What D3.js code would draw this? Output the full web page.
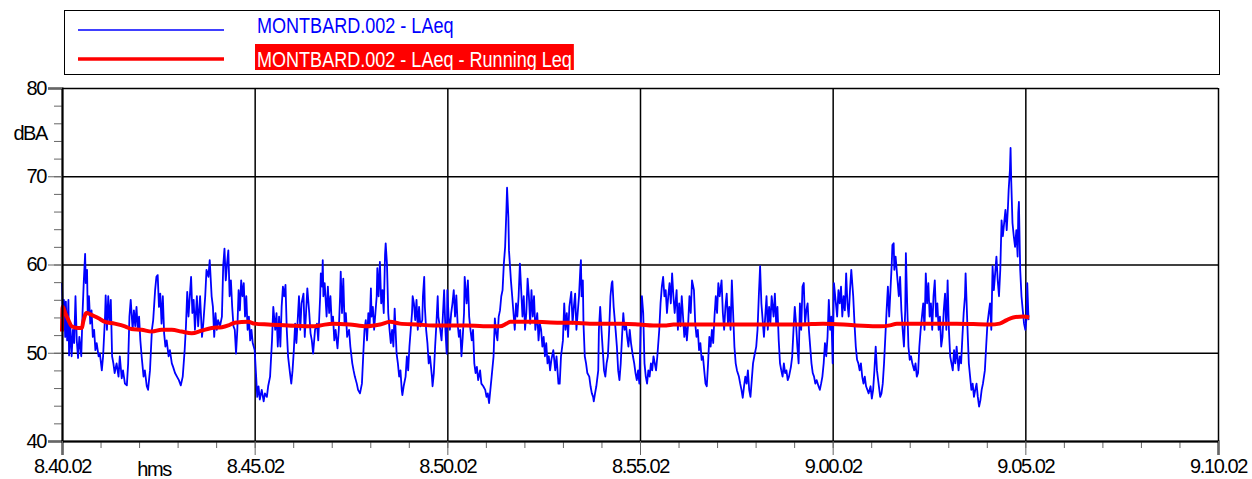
<!DOCTYPE html>
<html>
<head>
<meta charset="utf-8">
<script src="https://cdn.jsdelivr.net/npm/d3@7"></script>
<style>
body { margin: 0; background: #fff; }
text { font-family: "Liberation Sans", Arial, sans-serif; }
</style>
</head>
<body>
<div id="chart"></div>
<script>
// seconds after the start time 8.40.02
const startClock = [8, 40, 2];
const xTickSeconds = [0, 300, 600, 900, 1200, 1500, 1800];
const xMinorSeconds = d3.range(0, 1801, 60);
const yTickValues = [40, 50, 60, 70, 80];
const yMinorValues = d3.range(40, 81, 2);
const legendLabels = ["MONTBARD.002 - LAeq", "MONTBARD.002 - LAeq - Running Leq"];

// LAeq, [seconds, dBA]
const laeq = [
[0,57.9],[2,52.6],[3,56.0],[5,51.8],[6,55.8],[8,51.4],[10,56.0],[11,49.7],[13,53.0],[15,49.6],[17,52.6],[19,51.1],[21,56.4],[23,51.4],[25,49.4],[27,51.8],[30,49.6],[32,54.5],[34,58.2],[36,61.2],[37,57.9],[39,59.4],[40,54.5],[42,56.4],[44,53.3],[46,54.8],[48,51.8],[50,52.6],[52,50.3],[54,51.1],[57,49.6],[59,49.9],[62,48.0],[64,49.6],[67,54.1],[68,56.5],[70,52.6],[72,56.4],[74,53.3],[76,56.0],[78,49.6],[80,48.8],[82,47.7],[85,48.8],[88,47.3],[90,49.6],[93,47.1],[95,48.0],[98,46.5],[101,46.3],[103,48.8],[105,54.1],[107,56.0],[110,52.6],[112,54.8],[114,53.0],[116,55.2],[118,52.6],[120,54.1],[122,51.4],[124,49.6],[127,47.3],[129,48.0],[132,46.2],[134,45.8],[137,48.0],[140,52.6],[142,53.7],[145,57.1],[147,58.6],[149,58.8],[151,55.2],[153,56.7],[155,53.3],[157,56.4],[159,52.2],[161,50.7],[163,51.4],[166,49.6],[168,50.3],[171,48.8],[173,48.4],[176,47.7],[179,47.3],[182,46.9],[185,46.3],[188,47.3],[191,50.3],[193,53.0],[195,56.9],[197,54.1],[199,56.4],[201,58.6],[203,54.5],[205,56.0],[207,52.6],[210,56.4],[212,53.0],[215,56.4],[218,51.8],[220,53.3],[223,56.4],[225,59.4],[228,58.6],[230,60.5],[233,56.4],[235,55.2],[237,51.8],[239,54.5],[241,52.6],[243,53.7],[246,53.0],[249,54.1],[251,59.8],[253,61.8],[255,58.2],[257,60.1],[259,61.6],[261,56.4],[263,58.2],[265,55.2],[267,53.0],[269,52.6],[271,49.9],[273,52.6],[275,57.1],[277,54.8],[279,58.2],[281,56.4],[283,57.9],[285,54.1],[287,56.4],[289,52.6],[291,54.1],[293,51.4],[295,52.6],[297,51.1],[300,50.3],[302,47.7],[304,45.0],[306,46.2],[308,44.7],[311,45.8],[314,44.5],[316,45.4],[319,45.0],[321,46.2],[324,47.3],[327,51.4],[329,55.2],[332,52.6],[334,54.5],[336,50.7],[338,54.1],[340,50.7],[342,55.2],[344,57.5],[346,56.4],[348,57.7],[350,52.6],[352,49.6],[355,47.7],[357,46.5],[359,48.0],[361,50.3],[363,53.3],[365,51.1],[367,53.7],[369,56.4],[371,52.6],[373,55.6],[376,56.7],[378,51.8],[380,54.5],[382,57.3],[385,54.5],[387,52.2],[389,51.4],[391,49.9],
[394,52.6],[397,53.3],[399,51.4],[402,56.4],[403,59.0],[405,57.5],[406,60.5],[407,56.4],[409,57.9],[412,54.1],[414,57.5],[416,54.5],[418,56.4],[420,53.3],[422,54.1],[424,51.4],[426,52.6],[429,50.5],[431,52.6],[433,56.4],[434,59.2],[436,54.5],[438,58.4],[440,53.3],[442,54.5],[444,51.8],[447,52.6],[449,50.7],[452,48.8],[454,48.0],[456,47.3],[459,46.5],[461,45.8],[464,45.4],[467,46.5],[469,49.6],[471,52.6],[473,53.7],[475,51.4],[477,54.5],[479,53.0],[481,57.3],[482,54.1],[484,55.2],[486,52.6],[488,54.5],[490,56.4],[491,59.6],[493,56.4],[495,60.3],[497,55.6],[499,57.1],[501,54.5],[503,61.1],[504,62.4],[506,60.1],[508,54.5],[510,52.6],[512,51.1],[514,52.6],[516,50.7],[518,55.0],[521,49.9],[523,48.8],[525,47.3],[527,48.0],[529,45.8],[530,45.2],[532,46.2],[535,47.3],[537,49.6],[539,48.0],[541,50.7],[543,52.6],[545,54.5],[546,56.4],[548,55.6],[550,53.7],[552,56.0],[554,52.6],[556,55.2],[558,53.0],[561,53.7],[562,56.4],[564,58.6],[565,55.2],[567,52.6],[569,51.1],[571,48.8],[573,49.6],[576,47.3],[577,46.2],[579,47.7],[581,50.7],[583,53.3],[585,56.4],[586,54.1],[589,52.6],[591,51.4],[593,54.1],[595,57.1],[597,52.6],[599,49.9],[600,57.1],[602,54.1],[604,52.6],[606,54.5],[608,55.6],[610,57.1],[612,54.1],[614,56.5],[616,53.3],[618,51.8],[620,52.6],[622,49.6],[624,51.8],[626,54.5],[627,58.6],[630,55.6],[632,58.2],[634,54.1],[636,52.6],[638,51.4],[640,52.6],[642,48.8],[644,47.7],[646,48.4],[648,46.9],[651,48.0],[653,46.5],[656,46.2],[659,45.8],[661,45.0],[663,45.4],[665,44.3],[667,45.8],[669,47.3],[672,49.6],[674,53.9],[676,52.2],[678,51.4],[680,54.1],[682,54.8],[684,56.4],[686,57.1],[688,60.1],[690,62.0],[692,66.2],[693,68.7],[695,65.4],[696,61.6],[699,58.2],[701,56.4],[703,54.5],[705,52.6],[707,55.6],[709,54.1],[711,56.4],[713,60.1],[715,57.1],[717,54.1],[719,56.4],[721,52.6],[723,54.5],[725,58.4],[727,56.4],[729,53.3],[731,57.1],[733,54.1],[735,56.4],[737,52.6],[740,54.5],[742,51.4],[744,53.3],[746,52.6],[748,50.7],[750,51.8],[752,49.6],[754,51.1],[756,48.8],[758,49.6],[760,48.0],[762,49.2],[765,50.3],[768,48.0],[770,49.6],[773,46.5],
[775,46.5],[777,49.6],[780,51.4],[782,55.6],[784,52.6],[786,54.5],[788,51.8],[790,55.2],[793,56.9],[795,53.3],[797,55.2],[799,56.7],[801,52.6],[803,54.5],[805,56.4],[807,59.4],[808,60.5],[809,56.4],[811,58.2],[812,53.3],[814,49.6],[816,48.8],[818,47.7],[821,47.3],[823,46.2],[825,45.4],[827,45.0],[828,44.5],[830,45.4],[832,46.2],[835,48.0],[836,52.6],[838,55.2],[840,52.6],[842,50.3],[844,48.0],[846,47.3],[848,48.8],[850,49.6],[852,52.6],[854,56.4],[856,57.9],[857,58.1],[859,55.2],[862,52.6],[864,50.7],[866,48.0],[868,46.9],[870,48.8],[872,51.8],[874,54.5],[876,52.6],[878,53.3],[880,51.8],[882,50.7],[884,52.6],[886,51.1],[889,49.6],[891,48.8],[893,47.7],[895,46.9],[897,48.0],[899,46.5],[901,52.6],[903,56.4],[905,54.5],[907,48.8],[909,47.3],[911,46.5],[913,48.0],[915,47.3],[917,48.8],[919,48.0],[921,49.6],[923,48.8],[925,48.0],[927,49.6],[930,52.6],[932,55.6],[934,57.5],[936,58.6],[938,56.4],[940,57.1],[942,54.5],[944,56.4],[946,57.9],[948,55.6],[950,59.0],[952,56.4],[954,54.5],[957,57.1],[959,52.6],[961,55.6],[963,53.0],[965,56.4],[967,54.1],[969,51.8],[971,53.3],[973,51.4],[975,53.3],[977,56.4],[979,54.5],[981,58.2],[984,57.1],[986,53.3],[988,51.8],[990,52.6],[992,50.3],[994,51.1],[996,49.2],[998,49.6],[1000,48.0],[1002,46.5],[1004,46.2],[1006,48.8],[1008,51.8],[1010,50.7],[1012,52.6],[1014,51.1],[1016,54.1],[1018,56.4],[1020,54.5],[1022,57.9],[1024,56.4],[1027,58.2],[1029,54.5],[1031,52.6],[1033,55.2],[1035,56.7],[1037,53.3],[1039,55.2],[1041,52.6],[1043,58.2],[1045,54.5],[1047,50.7],[1049,48.8],[1051,48.0],[1054,47.3],[1056,46.5],[1058,45.8],[1060,44.9],[1062,46.2],[1064,47.3],[1066,46.5],[1068,48.0],[1070,45.8],[1072,45.0],[1074,46.9],[1076,48.8],[1078,49.6],[1081,50.7],[1083,52.6],[1085,56.4],[1087,59.8],[1089,55.6],[1091,53.7],[1093,51.8],[1095,54.1],[1097,56.4],[1099,52.6],[1101,55.2],[1103,53.3],[1105,56.4],[1108,54.1],[1110,56.7],[1112,53.3],[1114,55.2],[1116,51.4],[1118,48.8],[1120,48.0],[1122,47.3],[1124,48.8],[1126,47.7],[1128,48.0],[1130,46.9],[1132,47.3],[1135,48.4],[1137,49.6],[1139,52.6],[1141,55.2],[1143,53.3],[1145,50.7],[1147,48.8],
[1149,55.6],[1151,52.6],[1153,57.5],[1155,57.9],[1157,53.3],[1159,54.8],[1161,55.6],[1163,52.6],[1165,50.7],[1167,48.8],[1169,47.7],[1171,47.3],[1173,46.5],[1175,46.9],[1178,46.2],[1180,45.8],[1182,46.5],[1184,47.3],[1186,48.8],[1188,51.1],[1190,49.6],[1192,51.8],[1194,56.0],[1196,52.6],[1198,54.1],[1200,48.8],[1202,57.9],[1205,55.6],[1207,54.1],[1209,57.1],[1211,55.6],[1213,57.5],[1215,54.1],[1217,56.4],[1219,54.8],[1221,59.0],[1223,55.6],[1225,54.1],[1227,57.1],[1229,59.4],[1232,56.4],[1234,53.3],[1236,50.7],[1238,49.2],[1240,48.8],[1242,48.0],[1244,48.8],[1246,47.3],[1248,46.5],[1250,47.3],[1252,46.2],[1254,45.8],[1256,45.4],[1259,46.2],[1261,44.8],[1263,45.8],[1265,48.0],[1267,50.7],[1269,48.0],[1272,46.2],[1274,45.0],[1276,45.4],[1278,46.5],[1280,48.8],[1282,51.8],[1284,54.8],[1286,57.5],[1288,54.1],[1290,57.1],[1292,60.1],[1293,62.2],[1295,62.4],[1296,59.4],[1298,60.9],[1301,58.2],[1303,56.4],[1305,58.6],[1307,54.8],[1309,52.6],[1311,50.7],[1313,54.8],[1314,61.3],[1316,55.6],[1318,50.7],[1320,49.2],[1322,49.6],[1324,48.8],[1327,48.0],[1329,48.8],[1331,47.3],[1333,47.7],[1335,50.7],[1337,52.6],[1339,54.1],[1341,55.6],[1343,52.6],[1345,59.0],[1347,55.6],[1349,57.9],[1351,54.1],[1353,55.6],[1355,52.6],[1357,56.4],[1359,58.2],[1361,54.1],[1363,55.6],[1365,52.6],[1367,54.1],[1369,50.7],[1371,51.8],[1373,54.8],[1375,56.7],[1377,52.6],[1379,58.2],[1381,52.6],[1383,49.6],[1385,48.8],[1387,48.0],[1389,50.3],[1391,48.8],[1393,50.7],[1396,48.0],[1398,49.6],[1400,48.8],[1402,51.8],[1404,54.5],[1406,56.4],[1407,59.0],[1410,52.6],[1412,48.8],[1414,47.3],[1416,45.8],[1418,46.5],[1420,45.0],[1422,45.8],[1424,46.5],[1426,45.0],[1428,43.9],[1430,44.6],[1432,45.8],[1434,46.5],[1437,48.0],[1439,50.7],[1441,53.3],[1443,54.5],[1445,55.6],[1447,52.6],[1449,59.8],[1451,57.1],[1453,59.0],[1455,60.9],[1457,58.2],[1459,56.4],[1461,59.4],[1463,65.0],[1465,63.2],[1467,64.7],[1469,66.2],[1471,63.9],[1473,66.6],[1474,68.4],[1476,70.7],[1477,73.2],[1478,69.6],[1480,64.7],[1482,63.2],[1484,62.0],[1486,63.9],[1488,60.9],[1489,65.8],[1490,67.1],[1492,59.4],[1494,56.4],[1496,54.8],[1498,53.3],[1500,52.6],[1502,54.1],[1503,57.9],[1505,53.7]
];

// running Leq, [seconds, dBA]
const runningLeq = [
[0,52.4],[1,55.2],[5,54.5],[10,53.7],[15,53.0],[25,52.8],[31,52.8],[33,53.5],[38,54.5],[46,54.3],[57,53.9],[67,53.5],[82,53.3],[98,53.0],[108,52.7],[124,52.6],[140,52.4],[155,52.6],[171,52.6],[186,52.4],[202,52.2],[217,52.5],[233,52.8],[249,52.9],[259,53.1],[269,53.4],[290,53.5],[300,53.3],[321,53.2],[352,53.1],[391,53.0],
[402,53.1],[422,53.3],[448,53.2],[474,53.0],[495,53.2],[511,53.5],[526,53.3],[552,53.2],[578,53.1],[604,53.1],[630,53.1],[656,53.0],[682,53.0],[692,53.3],[698,53.5],[734,53.5],[775,53.4],
[796,53.4],[822,53.3],[848,53.3],[874,53.3],[900,53.2],[921,53.1],[941,53.1],[952,53.2],[1004,53.2],[1056,53.2],[1149,53.2],
[1185,53.3],[1237,53.1],[1274,53.0],[1289,53.1],[1300,53.3],[1341,53.3],[1393,53.3],[1445,53.2],[1460,53.3],[1471,53.7],[1481,54.0],[1497,54.1],[1506,54.0]
];

const W = 1252, H = 479;
const plot = {left: 62, right: 1218, top: 88, bottom: 441};

function clockLabel(s) {
    const t = startClock[0] * 3600 + startClock[1] * 60 + startClock[2] + s;
    const h = Math.floor(t / 3600), m = Math.floor(t % 3600 / 60), sec = t % 60;
    return `${h}.${String(m).padStart(2, "0")}.${String(sec).padStart(2, "0")}`;
}

// squeeze glyphs sideways, the original uses a narrow face
function condense(sel, k) {
    sel.each(function() {
        const w = this.getComputedTextLength();
        d3.select(this).attr("textLength", w * k).attr("lengthAdjust", "spacingAndGlyphs");
    });
}

// tight axis text
function axisText(sel) {
    sel.attr("fill", "#000")
        .style("font-size", "20px")
        .style("letter-spacing", "-1.4px")
        .style("font-family", "'Liberation Sans', Arial, sans-serif");
}

const x = d3.scaleLinear().domain([0, 1800]).range([plot.left, plot.right]);
const y = d3.scaleLinear().domain([40, 80]).range([plot.bottom, plot.top]);

const svg = d3.select("#chart").append("svg")
    .attr("width", W)
    .attr("height", H);

// legend box
const legend = svg.append("g");
legend.append("rect")
    .attr("x", 64.5).attr("y", 10.5)
    .attr("width", 1155).attr("height", 64)
    .attr("fill", "none").attr("stroke", "#000").attr("stroke-width", 1);
legend.append("line")
    .attr("x1", 78).attr("x2", 224).attr("y1", 30).attr("y2", 30)
    .attr("stroke", "#0000ff").attr("stroke-width", 1.5);
legend.append("line")
    .attr("x1", 78).attr("x2", 224).attr("y1", 59).attr("y2", 59)
    .attr("stroke", "#ff0000").attr("stroke-width", 3.5);
legend.append("text")
    .attr("x", 257).attr("y", 33)
    .attr("fill", "#0000ff")
    .style("font-size", "22px")
    .text(legendLabels[0])
    .call(condense, 0.82);
const redBg = legend.append("rect")
    .attr("x", 255).attr("y", 44).attr("height", 26)
    .attr("fill", "#ff0000");
const redText = legend.append("text")
    .attr("x", 257).attr("y", 67)
    .attr("fill", "#fff")
    .style("font-size", "22px")
    .text(legendLabels[1])
    .call(condense, 0.82);
redBg.attr("width", +redText.attr("textLength") + 4);

// grid
svg.append("g")
    .attr("transform", `translate(${plot.left},0)`)
    .call(d3.axisLeft(y).tickValues(yTickValues).tickSize(-(plot.right - plot.left)).tickFormat(""))
    .call(g => g.select(".domain").remove())
    .call(g => g.selectAll("line").attr("stroke", "#000").attr("stroke-width", 1.5));
svg.append("g")
    .attr("transform", `translate(0,${plot.bottom})`)
    .call(d3.axisBottom(x).tickValues(xTickSeconds).tickSize(-(plot.bottom - plot.top)).tickFormat(""))
    .call(g => g.select(".domain").remove())
    .call(g => g.selectAll("line").attr("stroke", "#000").attr("stroke-width", 1.5));

// series
const line = d3.line().x(d => x(d[0])).y(d => y(d[1]));
svg.append("path")
    .datum(laeq)
    .attr("d", line)
    .attr("fill", "none")
    .attr("stroke", "#0000ff")
    .attr("stroke-width", 1.8)
    .attr("stroke-linejoin", "round");
svg.append("path")
    .datum(runningLeq)
    .attr("d", line.curve(d3.curveMonotoneX))
    .attr("fill", "none")
    .attr("stroke", "#ff0000")
    .attr("stroke-width", 4)
    .attr("stroke-linejoin", "round");

// y axis
svg.append("g")
    .attr("transform", `translate(${plot.left},0)`)
    .call(d3.axisLeft(y).tickValues(yMinorValues).tickSize(8).tickFormat(""))
    .call(g => g.select(".domain").remove())
    .call(g => g.selectAll("line").attr("stroke", "#666"));
svg.append("g")
    .attr("transform", `translate(${plot.left},0)`)
    .call(d3.axisLeft(y).tickValues(yTickValues).tickSize(14).tickPadding(2))
    .call(g => g.select(".domain").attr("stroke", "#000").attr("stroke-width", 2))
    .call(g => g.selectAll(".tick line").attr("stroke", "#666"))
    .call(g => g.selectAll("text").call(axisText));

svg.append("text")
    .attr("x", 47).attr("y", 140)
    .attr("text-anchor", "end")
    .call(axisText)
    .text("dBA");

// x axis
svg.append("g")
    .attr("transform", `translate(0,${plot.bottom})`)
    .call(d3.axisBottom(x).tickValues(xMinorSeconds).tickSize(7).tickFormat(""))
    .call(g => g.select(".domain").remove())
    .call(g => g.selectAll("line").attr("stroke", "#666"));
svg.append("g")
    .attr("transform", `translate(0,${plot.bottom})`)
    .call(d3.axisBottom(x).tickValues(xTickSeconds).tickSize(14).tickPadding(4).tickFormat(clockLabel))
    .call(g => g.select(".domain").attr("stroke", "#000").attr("stroke-width", 2))
    .call(g => g.selectAll(".tick line").attr("stroke", "#666"))
    .call(g => g.selectAll("text").call(axisText));

svg.append("text")
    .attr("x", 154).attr("y", 476)
    .attr("text-anchor", "middle")
    .call(axisText)
    .text("hms");
</script>
</body>
</html>
